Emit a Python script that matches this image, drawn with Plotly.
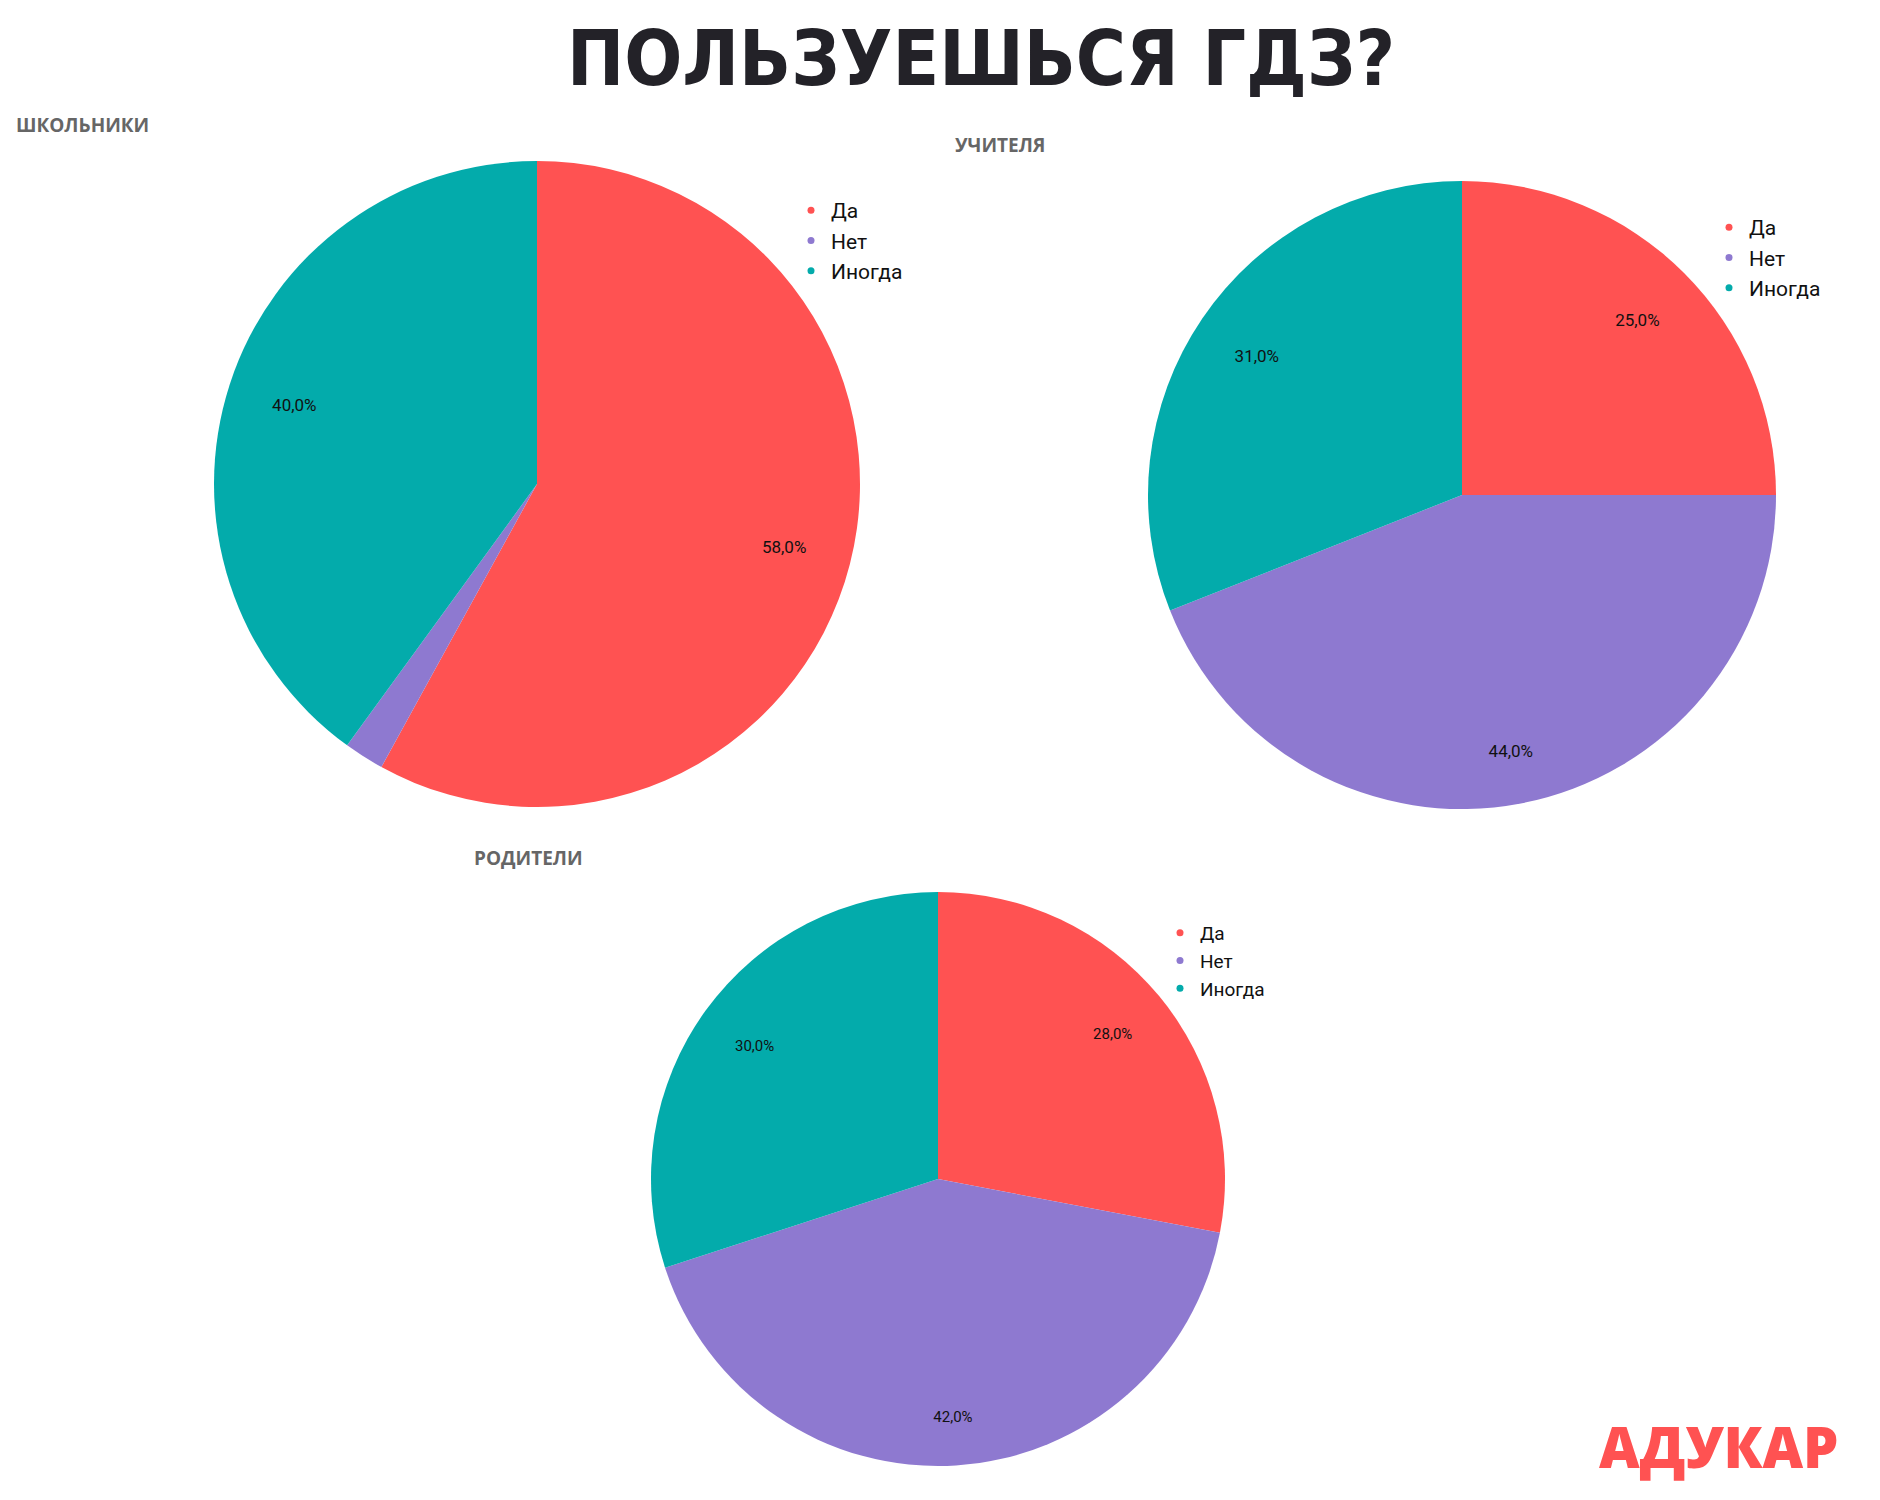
import plotly.graph_objects as go

labels = ["Да", "Нет", "Иногда"]
colors = ["#FF5252", "#8E79D0", "#03ABAB"]

titles = ["ШКОЛЬНИКИ", "УЧИТЕЛЯ", "РОДИТЕЛИ"]
pupils = [58, 2, 40]
teachers = [25, 44, 31]
parents = [28, 42, 30]

# page body has an 8px margin; figure sized to fit the 1880x1500 window
OFF = 8
W, H = 1880 - OFF, 1500 - OFF


def px(x):
    return (x - OFF) / W


def py(y):
    return 1 - (y - OFF) / H


def dom(cx, cy, r):
    return dict(x=[px(cx - r), px(cx + r)], y=[py(cy + r), py(cy - r)])


doms = [dom(537, 484, 323), dom(1462, 495, 314), dom(938, 1179, 287)]
series = [pupils, teachers, parents]
label_sizes = [17, 17, 15]
legend_ids = ["legend", "legend2", "legend3"]
# labels of the bottom slices sit a bit further out in the reference
outer_label = [[False, False, False], [False, True, False], [False, True, False]]

fig = go.Figure()
for i, vals in enumerate(series):
    fig.add_trace(go.Pie(
        labels=labels, values=vals, domain=doms[i], sort=False,
        direction="clockwise", rotation=0, textinfo="none",
        marker=dict(colors=colors, line=dict(width=0)),
        showlegend=False, hoverinfo="label+percent",
    ))
    # transparent overlays that carry the percentage labels
    for hole, flag in ((0.58, False), (0.66, True)):
        tmpl = ["%{percent:.1%}" if (v >= 5 and outer_label[i][k] == flag) else ""
                for k, v in enumerate(vals)]
        fig.add_trace(go.Pie(
            labels=labels, values=vals, domain=doms[i], sort=False,
            direction="clockwise", rotation=0, hole=hole,
            marker=dict(colors=["rgba(0,0,0,0)"] * 3, line=dict(width=0)),
            texttemplate=tmpl,
            textposition="inside", insidetextorientation="horizontal",
            textfont=dict(family="Roboto", size=label_sizes[i], color="#111111"),
            showlegend=False, hoverinfo="skip",
        ))
    for lab, col in zip(labels, colors):
        fig.add_trace(go.Scatter(
            x=[None], y=[None], mode="markers", name=lab,
            marker=dict(color=col, size=7, symbol="circle"),
            legend=legend_ids[i], showlegend=True,
        ))

leg_common = dict(bgcolor="rgba(0,0,0,0)", xanchor="left", yanchor="top",
                  itemsizing="trace", tracegroupgap=0, itemwidth=30)
fig.update_layout(
    width=W, height=H,
    margin=dict(l=0, r=0, t=0, b=0),
    paper_bgcolor="white", plot_bgcolor="white",
    separators=", ",
    xaxis=dict(visible=False), yaxis=dict(visible=False),
    legend=dict(x=px(791), y=py(190), font=dict(family="Roboto", size=21, color="#111"), **leg_common),
    legend2=dict(x=px(1709), y=py(207), font=dict(family="Roboto", size=21, color="#111"), **leg_common),
    legend3=dict(x=px(1160), y=py(914), font=dict(family="Roboto", size=19, color="#111"), **leg_common),
)

fig.add_annotation(text="ПОЛЬЗУЕШЬСЯ ГДЗ?", x=px(981), y=py(58), xref="paper", yref="paper",
                   showarrow=False, xanchor="center", yanchor="middle",
                   font=dict(family="DejaVu Sans Condensed", size=76,
                             color="#232228", weight="bold"))
sub_pos = [(14, 125), (953, 145), (472, 858)]
for t, (sx, sy) in zip(titles, sub_pos):
    fig.add_annotation(text=t, x=px(sx), y=py(sy), xref="paper", yref="paper",
                       showarrow=False, xanchor="left", yanchor="middle",
                       font=dict(family="Open Sans", size=19, color="#666666", weight="bold"))
fig.add_annotation(text="АДУКАР", x=px(1840), y=py(1446), xref="paper", yref="paper",
                   showarrow=False, xanchor="right", yanchor="middle",
                   font=dict(family="Open Sans", size=56, color="#FF5252", weight=800))

fig.write_html("out.html")
